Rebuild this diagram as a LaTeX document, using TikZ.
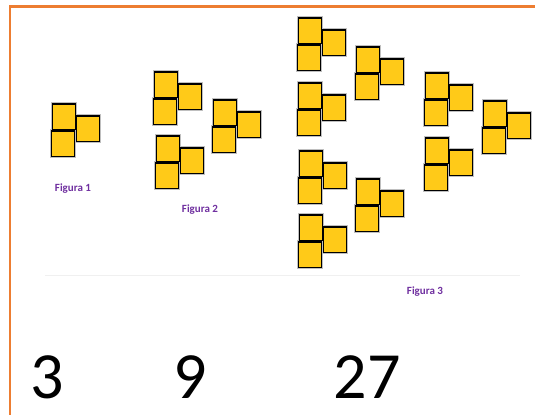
\documentclass[tikz,border=0pt]{standalone}
\usepackage{fontspec}
\setmainfont{Carlito}
\definecolor{sqyellow}{HTML}{FFCA18}
\definecolor{frameorange}{HTML}{ED7D31}
\definecolor{labelpurple}{HTML}{7030A0}
\tikzset{
  sq/.style={draw=black, line width=1.5pt, fill=sqyellow, minimum width=23pt, minimum height=25.5pt, inner sep=0pt, outer sep=0pt},
  sqshadow/.style={draw=black!25, line width=3.5pt, minimum width=23pt, minimum height=25.5pt, inner sep=0pt, outer sep=0pt},
  figlabel/.style={text=labelpurple, font=\bfseries\fontsize{11}{13}\selectfont, inner sep=0pt},
  bignum/.style={font=\fontsize{66}{70}\selectfont, anchor=base, inner sep=0pt}
}
\newcommand{\Tpiece}[3]{%
  \node[sqshadow] (#1ts) at (#2+12, #3+13.5) {};
  \node[sqshadow] (#1rs) at (#2+36, #3+25.5) {};
  \node[sqshadow] (#1bs) at (#2+11, #3+40.5) {};
  \node[sq] (#1t) at (#2+12, #3+13.5) {};
  \node[sq] (#1r) at (#2+36, #3+25.5) {};
  \node[sq] (#1b) at (#2+11, #3+40.5) {};
}
\begin{document}
\begin{tikzpicture}[x=1pt,y=-1pt]
\useasboundingbox (0,0) rectangle (535,415);
\fill[white] (0,0) rectangle (535,415);
% frame
\draw[frameorange, line width=2.5pt] (535,6.5) -- (10,6.5) -- (10,415);
% faint separator
\draw[black!6, line width=0.8pt] (45,275) -- (520,275);
% Figure 1
\Tpiece{fa}{52}{103}
% Figure 2
\Tpiece{fba}{154}{71}
\Tpiece{fbb}{156}{135}
\Tpiece{fbc}{213}{99}
% Figure 3
\Tpiece{fca}{298}{17}
\Tpiece{fcb}{298}{82}
\Tpiece{fcc}{299}{150}
\Tpiece{fcd}{299}{214}
\Tpiece{fce}{356}{46}
\Tpiece{fcf}{356}{178}
\Tpiece{fcg}{425}{72}
\Tpiece{fch}{425}{137}
\Tpiece{fci}{483}{100}
% labels
\node[figlabel] (l1) at (73,189) {Figura 1};
\node[figlabel] (l2) at (200,210) {Figura 2};
\node[figlabel] (l3) at (425,292) {Figura 3};
% numbers
\node[bignum] (n1) at (47,398) {3};
\node[bignum] (n2) at (190,398) {9};
\node[bignum] (n3) at (367,398) {27};
\end{tikzpicture}
\end{document}
